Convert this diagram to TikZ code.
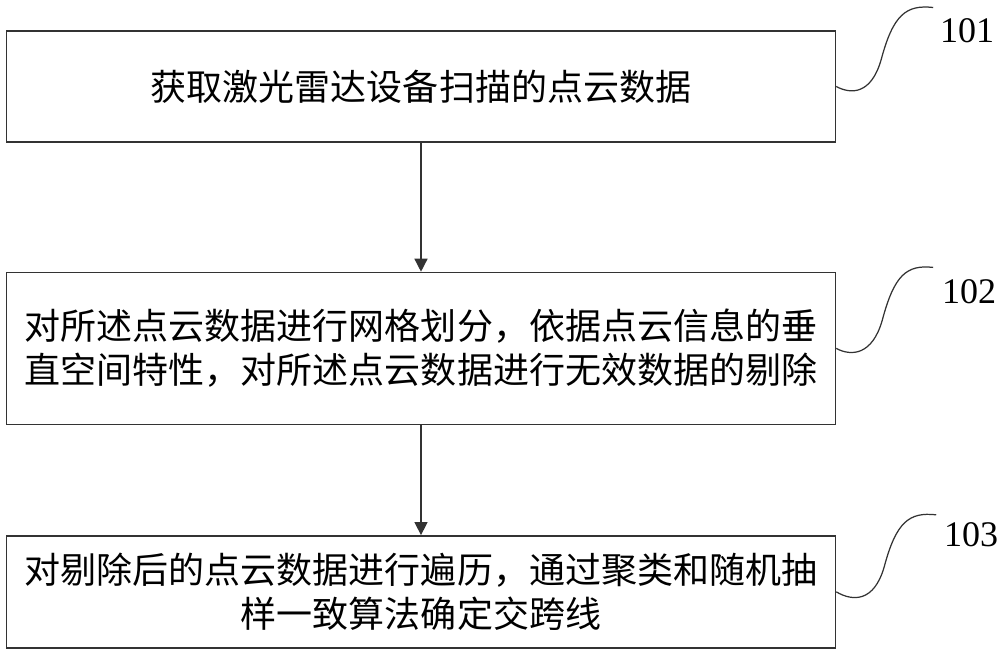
\documentclass[tikz,border=0pt]{standalone}
\usepackage{fontspec}
\setmainfont{Liberation Serif}
\newfontfamily\cjk{Noto Sans CJK SC}
\usepackage{tikz}
\usetikzlibrary{%
  arrows.meta,
  positioning}
\tikzset{
  %% Flow step boxes
  stepbox/.style={
    rectangle, draw=black!80, line width=0.8pt,
    minimum width=16.58cm, inner sep=0pt,
    align=center, font=\cjk\fontsize{20.5}{25}\selectfont},
  %% Step numbers
  numlabel/.style={
    inner sep=0pt, font=\fontsize{20.5}{24}\selectfont},
  %% Arrows
  arrow/.style={-{Triangle[length=0.26cm,width=0.26cm]}, line width=0.8pt, black!80},
  %% Leader curves to the step numbers
  leader/.style={line width=0.7pt, black!80},
}
\begin{document}
\begin{tikzpicture}
  \path[use as bounding box, fill=white] (0,0) rectangle (20,-13.04);

  %% Steps
  \node[stepbox, minimum height=2.22cm] (s101) at (8.42,-1.73)
    {获取激光雷达设备扫描的点云数据};
  \node[stepbox, minimum height=3.04cm, below=2.58cm of s101] (s102)
    {对所述点云数据进行网格划分，依据点云信息的垂\\
     直空间特性，对所述点云数据进行无效数据的剔除};
  \node[stepbox, minimum height=2.24cm, below=2.20cm of s102] (s103)
    {对剔除后的点云数据进行遍历，通过聚类和随机抽\\
     样一致算法确定交跨线};

  \draw[arrow] (s101) -- (s102);
  \draw[arrow] (s102) -- (s103);

  %% Step numbers
  \coordinate (m101) at ([shift={(0.9,0.54)}]s101.east);
  \coordinate (e101) at ([shift={(1.94,1.58)}]s101.east);
  \node[numlabel] (n101) at ([shift={(2.62,1.12)}]s101.east) {101};
  \draw[leader] (s101.east) .. controls +(0.3,-0.16) and +(-0.2,-0.7) .. (m101)
    .. controls +(0.24,0.9) and +(-0.54,0.06) .. (e101);

  \coordinate (m102) at ([shift={(0.92,0.56)}]s102.east);
  \coordinate (e102) at ([shift={(1.94,1.62)}]s102.east);
  \node[numlabel] (n102) at ([shift={(2.66,1.14)}]s102.east) {102};
  \draw[leader] (s102.east) .. controls +(0.3,-0.16) and +(-0.2,-0.7) .. (m102)
    .. controls +(0.24,0.9) and +(-0.54,0.06) .. (e102);

  \coordinate (m103) at ([shift={(0.96,0.5)}]s103.east);
  \coordinate (e103) at ([shift={(2.0,1.54)}]s103.east);
  \node[numlabel] (n103) at ([shift={(2.7,1.14)}]s103.east) {103};
  \draw[leader] (s103.east) .. controls +(0.34,-0.2) and +(-0.2,-0.7) .. (m103)
    .. controls +(0.24,0.9) and +(-0.54,0.06) .. (e103);

\end{tikzpicture}
\end{document}
